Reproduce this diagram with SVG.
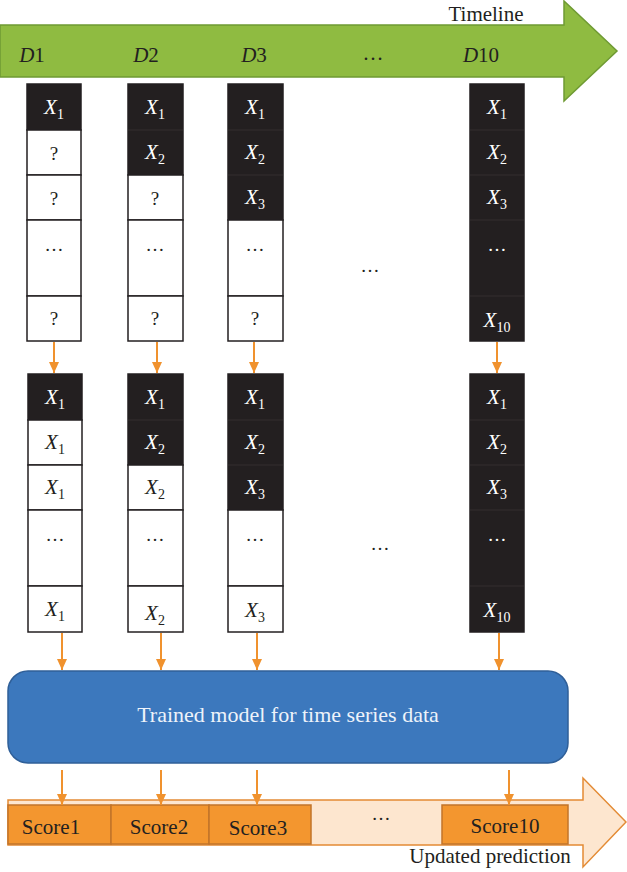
<svg xmlns="http://www.w3.org/2000/svg" width="627" height="872" viewBox="0 0 627 872">
<defs>
<style>
text{font-family:"Liberation Serif","Times New Roman",serif;fill:#231f20;font-size:21px}
.c{text-anchor:middle}
.w{fill:#ffffff}
.sm{font-size:19px}
.dk{fill:#231f20;stroke:#231f20;stroke-width:1.5}
.wb{fill:#ffffff;stroke:#231f20;stroke-width:1.5}
.sep{stroke:#383434;stroke-width:0.8}
.arr{stroke:#f0922e;stroke-width:2;fill:none;marker-end:url(#ah)}
.sc{fill:#f3962f;stroke:#c2742a;stroke-width:1.5}
.i{font-style:italic}
.sub{font-size:14px}
</style>
<marker id="ah" markerUnits="userSpaceOnUse" markerWidth="12" markerHeight="12" viewBox="0 0 12 12" refX="11" refY="6" orient="auto">
<path d="M0,1 L11,6 L0,11 Z" fill="#f0922e"/>
</marker>
</defs>

<g id="timeline">
<polygon points="0,25 564,25 564,1 617,51 564,101 564,77 0,77" fill="#8fbb41" stroke="#6f9a33" stroke-width="1.5"/>
<text class="c" x="486" y="21">Timeline</text>
<text class="c" x="32" y="62"><tspan class="i">D</tspan>1</text>
<text class="c" x="146" y="62"><tspan class="i">D</tspan>2</text>
<text class="c" x="254" y="62"><tspan class="i">D</tspan>3</text>
<text class="c" x="373" y="60">…</text>
<text class="c" x="481" y="62"><tspan class="i">D</tspan>10</text>
</g>

<g id="upper-col1">
<rect class="dk" x="27" y="84" width="54" height="46"/>
<rect class="wb" x="27" y="130" width="54" height="45"/>
<rect class="wb" x="27" y="175" width="54" height="45"/>
<rect class="wb" x="27" y="220" width="54" height="76"/>
<rect class="wb" x="27" y="296" width="54" height="45"/>
<text class="c w" x="54" y="114"><tspan class="i">X</tspan><tspan class="sub" dy="5">1</tspan></text>
<text class="c sm" x="54" y="160">?</text>
<text class="c sm" x="54" y="205">?</text>
<text class="c sm" x="54" y="251">…</text>
<text class="c sm" x="54" y="325">?</text>
</g>

<g id="upper-col2">
<rect class="dk" x="128" y="84" width="55" height="91"/>
<line class="sep" x1="128" y1="130" x2="183" y2="130"/>
<rect class="wb" x="128" y="175" width="55" height="45"/>
<rect class="wb" x="128" y="220" width="55" height="76"/>
<rect class="wb" x="128" y="296" width="55" height="45"/>
<text class="c w" x="155" y="114"><tspan class="i">X</tspan><tspan class="sub" dy="5">1</tspan></text>
<text class="c w" x="155" y="159"><tspan class="i">X</tspan><tspan class="sub" dy="5">2</tspan></text>
<text class="c sm" x="155" y="205">?</text>
<text class="c sm" x="155" y="251">…</text>
<text class="c sm" x="155" y="325">?</text>
</g>

<g id="upper-col3">
<rect class="dk" x="228" y="84" width="55" height="136"/>
<line class="sep" x1="228" y1="130" x2="283" y2="130"/>
<line class="sep" x1="228" y1="175" x2="283" y2="175"/>
<rect class="wb" x="228" y="220" width="55" height="76"/>
<rect class="wb" x="228" y="296" width="55" height="45"/>
<text class="c w" x="255" y="114"><tspan class="i">X</tspan><tspan class="sub" dy="5">1</tspan></text>
<text class="c w" x="255" y="159"><tspan class="i">X</tspan><tspan class="sub" dy="5">2</tspan></text>
<text class="c w" x="255" y="204"><tspan class="i">X</tspan><tspan class="sub" dy="5">3</tspan></text>
<text class="c sm" x="255" y="251">…</text>
<text class="c sm" x="255" y="325">?</text>
</g>

<text class="c sm" x="370" y="272">…</text>

<g id="upper-col4">
<rect class="dk" x="470" y="84" width="54" height="257"/>
<line class="sep" x1="470" y1="130" x2="524" y2="130"/>
<line class="sep" x1="470" y1="175" x2="524" y2="175"/>
<line class="sep" x1="470" y1="220" x2="524" y2="220"/>
<line class="sep" x1="470" y1="296" x2="524" y2="296"/>
<text class="c w" x="497" y="114"><tspan class="i">X</tspan><tspan class="sub" dy="5">1</tspan></text>
<text class="c w" x="497" y="159"><tspan class="i">X</tspan><tspan class="sub" dy="5">2</tspan></text>
<text class="c w" x="497" y="204"><tspan class="i">X</tspan><tspan class="sub" dy="5">3</tspan></text>
<text class="c w sm" x="497" y="251">…</text>
<text class="c w" x="497" y="327"><tspan class="i">X</tspan><tspan class="sub" dy="5">10</tspan></text>
</g>

<g id="lower-col1">
<rect class="dk" x="28" y="374" width="54" height="46"/>
<rect class="wb" x="28" y="420" width="54" height="45"/>
<rect class="wb" x="28" y="465" width="54" height="45"/>
<rect class="wb" x="28" y="510" width="54" height="76"/>
<rect class="wb" x="28" y="586" width="54" height="46"/>
<text class="c w" x="55" y="404"><tspan class="i">X</tspan><tspan class="sub" dy="5">1</tspan></text>
<text class="c" x="55" y="449"><tspan class="i">X</tspan><tspan class="sub" dy="5">1</tspan></text>
<text class="c" x="55" y="494"><tspan class="i">X</tspan><tspan class="sub" dy="5">1</tspan></text>
<text class="c sm" x="55" y="541">…</text>
<text class="c" x="55" y="616"><tspan class="i">X</tspan><tspan class="sub" dy="5">1</tspan></text>
</g>

<g id="lower-col2">
<rect class="dk" x="128" y="374" width="55" height="91"/>
<line class="sep" x1="128" y1="420" x2="183" y2="420"/>
<rect class="wb" x="128" y="465" width="55" height="45"/>
<rect class="wb" x="128" y="510" width="55" height="76"/>
<rect class="wb" x="128" y="586" width="55" height="46"/>
<text class="c w" x="155" y="404"><tspan class="i">X</tspan><tspan class="sub" dy="5">1</tspan></text>
<text class="c w" x="155" y="449"><tspan class="i">X</tspan><tspan class="sub" dy="5">2</tspan></text>
<text class="c" x="155" y="494"><tspan class="i">X</tspan><tspan class="sub" dy="5">2</tspan></text>
<text class="c sm" x="155" y="541">…</text>
<text class="c" x="155" y="620"><tspan class="i">X</tspan><tspan class="sub" dy="5">2</tspan></text>
</g>

<g id="lower-col3">
<rect class="dk" x="228" y="374" width="55" height="136"/>
<line class="sep" x1="228" y1="420" x2="283" y2="420"/>
<line class="sep" x1="228" y1="465" x2="283" y2="465"/>
<rect class="wb" x="228" y="510" width="55" height="76"/>
<rect class="wb" x="228" y="586" width="55" height="46"/>
<text class="c w" x="255" y="404"><tspan class="i">X</tspan><tspan class="sub" dy="5">1</tspan></text>
<text class="c w" x="255" y="449"><tspan class="i">X</tspan><tspan class="sub" dy="5">2</tspan></text>
<text class="c w" x="255" y="494"><tspan class="i">X</tspan><tspan class="sub" dy="5">3</tspan></text>
<text class="c sm" x="255" y="541">…</text>
<text class="c" x="255" y="617"><tspan class="i">X</tspan><tspan class="sub" dy="5">3</tspan></text>
</g>

<text class="c sm" x="380" y="550">…</text>

<g id="lower-col4">
<rect class="dk" x="470" y="374" width="54" height="258"/>
<line class="sep" x1="470" y1="420" x2="524" y2="420"/>
<line class="sep" x1="470" y1="465" x2="524" y2="465"/>
<line class="sep" x1="470" y1="510" x2="524" y2="510"/>
<line class="sep" x1="470" y1="586" x2="524" y2="586"/>
<text class="c w" x="497" y="404"><tspan class="i">X</tspan><tspan class="sub" dy="5">1</tspan></text>
<text class="c w" x="497" y="449"><tspan class="i">X</tspan><tspan class="sub" dy="5">2</tspan></text>
<text class="c w" x="497" y="494"><tspan class="i">X</tspan><tspan class="sub" dy="5">3</tspan></text>
<text class="c w sm" x="497" y="541">…</text>
<text class="c w" x="497" y="617"><tspan class="i">X</tspan><tspan class="sub" dy="5">10</tspan></text>
</g>

<g id="model">
<rect x="8" y="671" width="560" height="92" rx="20" fill="#3c78bd" stroke="#2f5f98" stroke-width="1.5"/>
<text class="c" x="288" y="722" style="fill:#eef3fa;font-size:22px">Trained model for time series data</text>
</g>

<g id="prediction">
<polygon points="8,800 583,800 583,778 626,822 583,867 583,845 8,845" fill="#fde6cf" stroke="#e38b35" stroke-width="1.5"/>
<rect class="sc" x="8" y="805" width="103" height="39"/>
<rect class="sc" x="111" y="805" width="98" height="39"/>
<rect class="sc" x="209" y="805" width="102" height="39"/>
<rect class="sc" x="442" y="805" width="126" height="39"/>
<text class="c" x="51" y="834">Score1</text>
<text class="c" x="159" y="834">Score2</text>
<text class="c" x="258" y="835">Score3</text>
<text class="c sm" x="381" y="820">…</text>
<text class="c" x="505" y="833">Score10</text>
<text class="c" x="490" y="863">Updated prediction</text>
</g>

<g id="connectors">
<line class="arr" x1="54" y1="342" x2="54" y2="373"/>
<line class="arr" x1="157" y1="342" x2="157" y2="373"/>
<line class="arr" x1="254" y1="342" x2="254" y2="373"/>
<line class="arr" x1="497" y1="342" x2="497" y2="373"/>
<line class="arr" x1="62" y1="633" x2="62" y2="670"/>
<line class="arr" x1="161" y1="633" x2="161" y2="670"/>
<line class="arr" x1="257" y1="633" x2="257" y2="670"/>
<line class="arr" x1="499" y1="633" x2="499" y2="670"/>
<line class="arr" x1="62" y1="770" x2="62" y2="805"/>
<line class="arr" x1="161" y1="770" x2="161" y2="805"/>
<line class="arr" x1="257" y1="770" x2="257" y2="805"/>
<line class="arr" x1="509" y1="770" x2="509" y2="805"/>
</g>
</svg>
